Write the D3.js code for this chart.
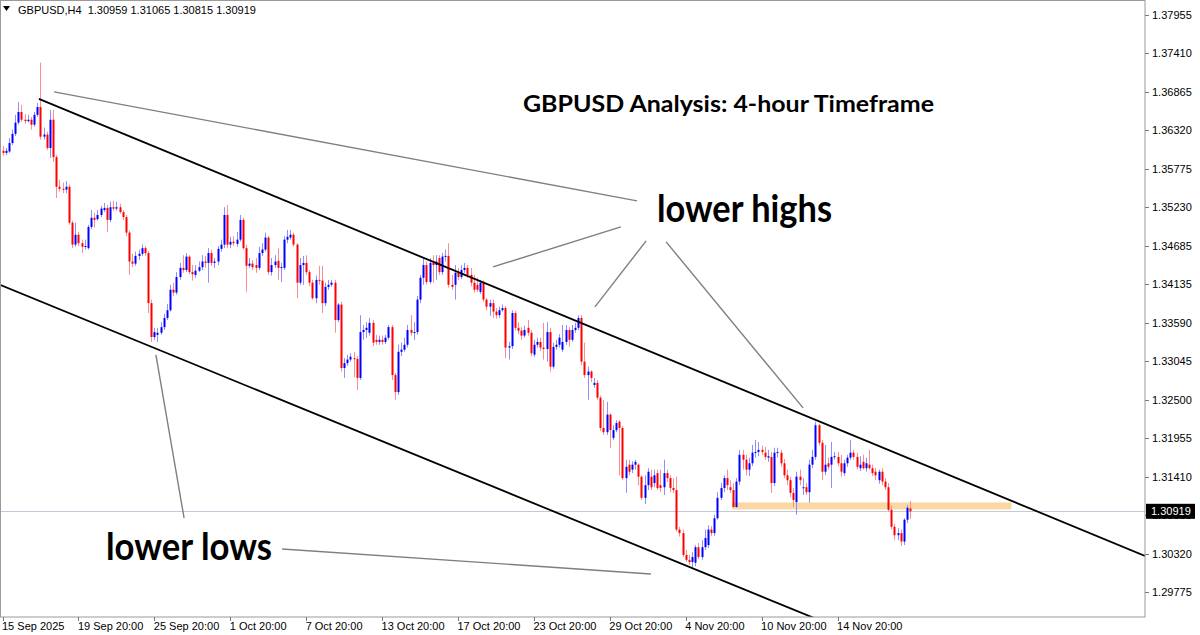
<!DOCTYPE html>
<html><head><meta charset="utf-8">
<script src="https://cdn.jsdelivr.net/npm/d3@7/dist/d3.min.js"></script>
<style>body{margin:0;background:#fff}svg{display:block}</style>
</head><body>
<script>
// ---- DATA (GBPUSD H4) ----
const opens = [
1.3603,1.3600,1.3602,1.3614,1.3627,1.3643,1.3658,1.3647,1.3645,1.3647,1.3640,1.3654,
1.3665,1.3623,1.3626,1.3607,1.3647,1.3594,1.3552,1.3549,1.3548,1.3552,1.3501,1.3470,
1.3484,1.3472,1.3467,1.3465,1.3495,1.3508,1.3506,1.3512,1.3519,1.3522,1.3505,1.3523,
1.3521,1.3523,1.3516,1.3509,1.3487,1.3446,1.3443,1.3454,1.3457,1.3465,1.3458,1.3387,
1.3339,1.3342,1.3345,1.3353,1.3366,1.3377,1.3406,1.3402,1.3424,1.3437,1.3434,1.3453,
1.3431,1.3427,1.3433,1.3438,1.3446,1.3444,1.3458,1.3444,1.3446,1.3464,1.3470,1.3512,
1.3470,1.3474,1.3471,1.3477,1.3505,1.3465,1.3440,1.3443,1.3441,1.3437,1.3458,1.3463,
1.3480,1.3431,1.3441,1.3447,1.3437,1.3437,1.3477,1.3480,1.3484,1.3470,1.3416,1.3441,
1.3444,1.3431,1.3416,1.3394,1.3420,1.3419,1.3387,1.3410,1.3413,1.3416,1.3363,1.3385,
1.3295,1.3302,1.3307,1.3309,1.3308,1.3281,1.3346,1.3349,1.3345,1.3359,1.3335,1.3332,
1.3335,1.3332,1.3338,1.3353,1.3285,1.3261,1.3318,1.3321,1.3328,1.3349,1.3345,1.3346,
1.3392,1.3423,1.3441,1.3417,1.3444,1.3441,1.3451,1.3431,1.3453,1.3454,1.3413,1.3413,
1.3430,1.3424,1.3434,1.3437,1.3427,1.3416,1.3413,1.3403,1.3416,1.3392,1.3382,1.3387,
1.3375,1.3370,1.3377,1.3380,1.3324,1.3326,1.3373,1.3352,1.3348,1.3341,1.3352,1.3345,
1.3314,1.3328,1.3332,1.3324,1.3322,1.3346,1.3297,1.3325,1.3328,1.3321,1.3332,1.3349,
1.3335,1.3349,1.3352,1.3366,1.3304,1.3285,1.3290,1.3271,1.3274,1.3253,1.3210,1.3204,
1.3229,1.3196,1.3207,1.3219,1.3210,1.3139,1.3158,1.3151,1.3158,1.3158,1.3141,1.3111,
1.3129,1.3141,1.3132,1.3146,1.3129,1.3126,1.3146,1.3139,1.3125,1.3122,1.3066,1.3061,
1.3030,1.3023,1.3020,1.3019,1.3041,1.3027,1.3041,1.3044,1.3066,1.3061,1.3082,1.3111,
1.3125,1.3139,1.3126,1.3122,1.3098,1.3134,1.3172,1.3165,1.3151,1.3160,1.3175,1.3176,
1.3179,1.3175,1.3168,1.3169,1.3132,1.3175,1.3175,1.3160,1.3143,1.3136,1.3118,1.3105,
1.3141,1.3125,1.3126,1.3119,1.3158,1.3169,1.3214,1.3189,1.3148,1.3160,1.3158,1.3169,
1.3169,1.3160,1.3146,1.3160,1.3168,1.3175,1.3169,1.3153,1.3162,1.3153,1.3158,1.3153,
1.3148,1.3136,1.3148,1.3134,1.3126,1.3094,1.3070,1.3058,1.3061,1.3049,1.3080,1.30959];
const highs = [
1.3610,1.3607,1.3621,1.3633,1.3654,1.3672,1.3668,1.3655,1.3654,1.3651,1.3658,1.3671,
1.3728,1.3636,1.3630,1.3661,1.3661,1.3597,1.3562,1.3558,1.3560,1.3555,1.3504,1.3501,
1.3488,1.3477,1.3477,1.3498,1.3519,1.3515,1.3519,1.3525,1.3529,1.3526,1.3531,1.3532,
1.3531,1.3528,1.3519,1.3512,1.3490,1.3457,1.3460,1.3463,1.3470,1.3468,1.3461,1.3392,
1.3352,1.3352,1.3360,1.3372,1.3386,1.3413,1.3416,1.3431,1.3444,1.3455,1.3458,1.3455,
1.3441,1.3441,1.3446,1.3455,1.3454,1.3465,1.3463,1.3451,1.3468,1.3477,1.3523,1.3526,
1.3481,1.3482,1.3488,1.3512,1.3508,1.3470,1.3451,1.3448,1.3451,1.3467,1.3472,1.3487,
1.3482,1.3451,1.3455,1.3465,1.3444,1.3482,1.3491,1.3491,1.3487,1.3472,1.3451,1.3454,
1.3455,1.3434,1.3420,1.3426,1.3440,1.3440,1.3416,1.3420,1.3420,1.3420,1.3387,1.3389,
1.3309,1.3314,1.3316,1.3318,1.3312,1.3370,1.3356,1.3360,1.3366,1.3363,1.3342,1.3341,
1.3341,1.3342,1.3356,1.3356,1.3288,1.3328,1.3331,1.3338,1.3356,1.3370,1.3360,1.3397,
1.3427,1.3451,1.3446,1.3451,1.3455,1.3455,1.3455,1.3458,1.3463,1.3472,1.3427,1.3441,
1.3437,1.3441,1.3444,1.3441,1.3437,1.3427,1.3423,1.3420,1.3419,1.3394,1.3392,1.3392,
1.3380,1.3382,1.3385,1.3383,1.3332,1.3377,1.3376,1.3360,1.3353,1.3355,1.3363,1.3349,
1.3335,1.3338,1.3338,1.3359,1.3360,1.3352,1.3331,1.3335,1.3343,1.3356,1.3356,1.3353,
1.3356,1.3359,1.3370,1.3370,1.3331,1.3297,1.3292,1.3281,1.3278,1.3256,1.3250,1.3247,
1.3231,1.3214,1.3221,1.3221,1.3213,1.3165,1.3165,1.3163,1.3165,1.3160,1.3143,1.3143,
1.3153,1.3151,1.3151,1.3151,1.3151,1.3165,1.3151,1.3143,1.3139,1.3141,1.3070,1.3066,
1.3037,1.3030,1.3034,1.3044,1.3047,1.3051,1.3066,1.3072,1.3071,1.3087,1.3119,1.3132,
1.3143,1.3151,1.3136,1.3132,1.3139,1.3179,1.3179,1.3172,1.3168,1.3186,1.3193,1.3190,
1.3185,1.3183,1.3179,1.3176,1.3182,1.3182,1.3179,1.3166,1.3151,1.3141,1.3125,1.3148,
1.3151,1.3139,1.3132,1.3165,1.3179,1.3219,1.3216,1.3193,1.3186,1.3168,1.3190,1.3176,
1.3176,1.3172,1.3165,1.3172,1.3193,1.3179,1.3175,1.3170,1.3172,1.3168,1.3179,1.3158,
1.3153,1.3151,1.3153,1.3139,1.3132,1.3100,1.3074,1.3068,1.3066,1.3082,1.3101,1.31065];
const lows = [
1.3596,1.3597,1.3600,1.3611,1.3624,1.3640,1.3644,1.3641,1.3643,1.3633,1.3637,1.3651,
1.3619,1.3619,1.3604,1.3593,1.3587,1.3536,1.3545,1.3543,1.3543,1.3498,1.3465,1.3467,
1.3468,1.3458,1.3463,1.3463,1.3492,1.3494,1.3504,1.3509,1.3516,1.3488,1.3502,1.3518,
1.3518,1.3514,1.3505,1.3482,1.3427,1.3438,1.3440,1.3448,1.3454,1.3454,1.3373,1.3332,
1.3335,1.3332,1.3342,1.3349,1.3363,1.3375,1.3397,1.3399,1.3420,1.3430,1.3431,1.3428,
1.3419,1.3423,1.3431,1.3434,1.3437,1.3416,1.3440,1.3437,1.3441,1.3460,1.3465,1.3465,
1.3465,1.3468,1.3467,1.3474,1.3463,1.3403,1.3437,1.3434,1.3430,1.3434,1.3454,1.3460,
1.3427,1.3426,1.3437,1.3420,1.3417,1.3434,1.3472,1.3477,1.3467,1.3394,1.3413,1.3413,
1.3427,1.3411,1.3392,1.3387,1.3413,1.3373,1.3383,1.3406,1.3410,1.3345,1.3360,1.3290,
1.3281,1.3298,1.3304,1.3282,1.3264,1.3278,1.3335,1.3338,1.3341,1.3326,1.3328,1.3328,
1.3328,1.3329,1.3335,1.3278,1.3250,1.3257,1.3312,1.3318,1.3324,1.3341,1.3335,1.3342,
1.3387,1.3413,1.3413,1.3414,1.3416,1.3420,1.3427,1.3427,1.3446,1.3409,1.3406,1.3392,
1.3420,1.3421,1.3430,1.3423,1.3411,1.3402,1.3403,1.3400,1.3389,1.3377,1.3369,1.3366,
1.3365,1.3366,1.3375,1.3309,1.3307,1.3322,1.3348,1.3343,1.3335,1.3338,1.3341,1.3312,
1.3311,1.3324,1.3319,1.3307,1.3304,1.3290,1.3294,1.3321,1.3324,1.3318,1.3328,1.3325,
1.3332,1.3345,1.3349,1.3299,1.3281,1.3250,1.3275,1.3267,1.3250,1.3206,1.3200,1.3200,
1.3182,1.3193,1.3204,1.3143,1.3136,1.3118,1.3143,1.3146,1.3151,1.3129,1.3108,1.3102,
1.3122,1.3122,1.3126,1.3122,1.3119,1.3115,1.3134,1.3119,1.3118,1.3063,1.3056,1.3027,
1.3020,1.3016,1.3013,1.3014,1.3024,1.3023,1.3037,1.3040,1.3057,1.3057,1.3080,1.3108,
1.3119,1.3122,1.3118,1.3097,1.3097,1.3129,1.3151,1.3143,1.3142,1.3156,1.3168,1.3170,
1.3172,1.3165,1.3162,1.3118,1.3128,1.3168,1.3155,1.3139,1.3129,1.3112,1.3098,1.3087,
1.3129,1.3115,1.3115,1.3104,1.3153,1.3165,1.3185,1.3136,1.3143,1.3151,1.3125,1.3165,
1.3156,1.3141,1.3142,1.3155,1.3165,1.3165,1.3151,1.3149,1.3151,1.3148,1.3151,1.3142,
1.3136,1.3131,1.3129,1.3122,1.3091,1.3066,1.3051,1.3051,1.3043,1.3044,1.3075,1.30815];
const closes = [
1.3600,1.3603,1.3614,1.3627,1.3643,1.3658,1.3647,1.3645,1.3647,1.3640,1.3654,1.3665,
1.3623,1.3626,1.3607,1.3647,1.3594,1.3552,1.3549,1.3548,1.3552,1.3501,1.3470,1.3484,
1.3472,1.3467,1.3468,1.3495,1.3508,1.3505,1.3512,1.3521,1.3522,1.3505,1.3523,1.3521,
1.3523,1.3516,1.3509,1.3487,1.3446,1.3443,1.3454,1.3457,1.3465,1.3458,1.3387,1.3339,
1.3346,1.3345,1.3353,1.3366,1.3377,1.3406,1.3402,1.3424,1.3437,1.3434,1.3453,1.3431,
1.3428,1.3433,1.3438,1.3446,1.3444,1.3458,1.3444,1.3446,1.3464,1.3470,1.3512,1.3470,
1.3474,1.3472,1.3477,1.3505,1.3465,1.3440,1.3443,1.3438,1.3437,1.3458,1.3463,1.3480,
1.3431,1.3441,1.3446,1.3437,1.3438,1.3477,1.3481,1.3484,1.3470,1.3416,1.3441,1.3444,
1.3431,1.3416,1.3394,1.3420,1.3419,1.3387,1.3410,1.3413,1.3416,1.3363,1.3385,1.3295,
1.3302,1.3307,1.3311,1.3308,1.3281,1.3346,1.3349,1.3352,1.3359,1.3331,1.3332,1.3335,
1.3332,1.3338,1.3353,1.3285,1.3261,1.3318,1.3321,1.3328,1.3349,1.3345,1.3346,1.3392,
1.3423,1.3441,1.3417,1.3444,1.3441,1.3446,1.3431,1.3453,1.3454,1.3413,1.3410,1.3430,
1.3424,1.3434,1.3437,1.3427,1.3416,1.3406,1.3406,1.3416,1.3392,1.3382,1.3387,1.3375,
1.3370,1.3377,1.3380,1.3324,1.3326,1.3373,1.3352,1.3348,1.3341,1.3349,1.3345,1.3316,
1.3328,1.3332,1.3324,1.3322,1.3346,1.3297,1.3325,1.3328,1.3338,1.3332,1.3349,1.3335,
1.3349,1.3352,1.3366,1.3304,1.3285,1.3290,1.3281,1.3274,1.3253,1.3210,1.3204,1.3229,
1.3207,1.3207,1.3217,1.3210,1.3139,1.3155,1.3148,1.3158,1.3162,1.3141,1.3111,1.3129,
1.3148,1.3126,1.3143,1.3125,1.3125,1.3146,1.3139,1.3125,1.3122,1.3066,1.3061,1.3030,
1.3023,1.3020,1.3027,1.3041,1.3027,1.3041,1.3054,1.3066,1.3061,1.3082,1.3111,1.3125,
1.3139,1.3129,1.3122,1.3098,1.3134,1.3172,1.3165,1.3151,1.3160,1.3175,1.3176,1.3179,
1.3176,1.3169,1.3170,1.3132,1.3175,1.3176,1.3160,1.3143,1.3136,1.3118,1.3108,1.3141,
1.3136,1.3126,1.3119,1.3158,1.3169,1.3214,1.3189,1.3148,1.3158,1.3155,1.3169,1.3170,
1.3160,1.3148,1.3160,1.3168,1.3175,1.3169,1.3155,1.3158,1.3153,1.3160,1.3153,1.3146,
1.3143,1.3148,1.3134,1.3126,1.3094,1.3070,1.3058,1.3061,1.3049,1.3080,1.3097,1.30919];

const priceTicks = [1.37955,1.37410,1.36865,1.36320,1.35775,1.35230,1.34685,1.34135,
                    1.33590,1.33045,1.32500,1.31955,1.31410,1.30865,1.30320,1.29775];
const priceTickLabels = ["1.37955","1.37410","1.36865","1.36320","1.35775","1.35230","1.34685","1.34135",
                    "1.33590","1.33045","1.32500","1.31955","1.31410","1.30865","1.30320","1.29775"];
const timeTickBars = [0,24,48,72,96,120,144,168,192,216,240,264];
const timeTickLabels = ["15 Sep 2025","19 Sep 20:00","25 Sep 20:00","1 Oct 20:00","7 Oct 20:00",
  "13 Oct 20:00","17 Oct 20:00","23 Oct 20:00","29 Oct 20:00","4 Nov 20:00","10 Nov 20:00","14 Nov 20:00"];

// drawn objects anchored at (bar index, price)
const channelUpper = [[11.5,1.36766],[361.2,1.30286]];
const channelLower = [[-0.8,1.34129],[300,1.28610]];
const pointerLines = [
  [[16.3,1.36865],[200.6,1.35320]],
  [[155.1,1.34384],[195.5,1.34951]],
  [[187.3,1.33817],[203.5,1.34753]],
  [[209.8,1.34739],[253.1,1.32385]],
  [[48.5,1.33136],[57.4,1.30825]],
  [[88.4,1.30385],[205.0,1.30031]]
];
const zone = {from:230.6, to:319, top:1.31045, bottom:1.30945};
const symbolInfo = "GBPUSD,H4  1.30959 1.31065 1.30815 1.30919";

// ---- CHART ----
const W=1200, H=635, plotR=1145, plotB=617;
const N = closes.length;
const x = d3.scaleLinear().domain([0, N-1]).range([2.5, 2.5 + 3.163*(N-1)]);
const y = d3.scaleLinear().domain([1.29775, 1.37955]).range([592, 15]);

const svg = d3.select("body").append("svg").attr("width",W).attr("height",H)
  .style("font-family","'Liberation Sans', Arial, sans-serif");
svg.append("rect").attr("width",W).attr("height",H).attr("fill","#fff");
svg.append("defs").append("clipPath").attr("id","clip")
  .append("rect").attr("x",0).attr("y",0).attr("width",plotR).attr("height",plotB);
const g = svg.append("g").attr("clip-path","url(#clip)");

// zone
g.append("rect")
  .attr("x", x(zone.from)).attr("width", x(zone.to)-x(zone.from))
  .attr("y", y(zone.top)).attr("height", y(zone.bottom)-y(zone.top))
  .attr("fill","#fbd8a3");

// current price line
const last = closes[N-1];
g.append("line").attr("x1",0).attr("x2",plotR)
  .attr("y1",Math.round(y(last))+0.5).attr("y2",Math.round(y(last))+0.5)
  .attr("stroke","#c2c9d8").attr("stroke-width",1);

// candles
const idx = d3.range(N);
const up = i => closes[i] >= opens[i];
g.append("g").selectAll("line").data(idx).join("line")
  .attr("x1", i => Math.round(x(i))+0.5).attr("x2", i => Math.round(x(i))+0.5)
  .attr("y1", i => y(highs[i])).attr("y2", i => y(lows[i]))
  .attr("stroke", i => up(i) ? "#8f8ffb" : "#fb8f8f").attr("stroke-width",1);
g.append("g").selectAll("rect").data(idx).join("rect")
  .attr("x", i => Math.round(x(i))-0.5).attr("width", 2)
  .attr("y", i => y(Math.max(opens[i],closes[i])))
  .attr("height", i => Math.max(1, Math.abs(y(opens[i])-y(closes[i]))))
  .attr("fill", i => up(i) ? "#0000ff" : "#ff0000");

// channel lines
const lineGen = d3.line().x(d => x(d[0])).y(d => y(d[1]));
[channelUpper, channelLower].forEach(l => {
  g.append("path").attr("d", lineGen(l)).attr("fill","none")
    .attr("stroke","#000").attr("stroke-width",1.8);
});
pointerLines.forEach(l => {
  g.append("path").attr("d", lineGen(l)).attr("fill","none")
    .attr("stroke","#7f7f7f").attr("stroke-width",1.4);
});

// texts
g.append("text").attr("x",523).attr("y",112).attr("textLength",411).attr("lengthAdjust","spacingAndGlyphs")
  .style("font-family","Lato, 'Open Sans', sans-serif").style("font-weight","bold").style("font-size","23px")
  .attr("fill","#000").text("GBPUSD Analysis: 4-hour Timeframe");
g.append("text").attr("x",657).attr("y",222).attr("textLength",175).attr("lengthAdjust","spacingAndGlyphs")
  .style("font-family","Lato, 'Open Sans', sans-serif").style("font-weight","bold").style("font-size","38px")
  .attr("fill","#000").text("lower highs");
g.append("text").attr("x",106).attr("y",560).attr("textLength",166).attr("lengthAdjust","spacingAndGlyphs")
  .style("font-family","Lato, 'Open Sans', sans-serif").style("font-weight","bold").style("font-size","38px")
  .attr("fill","#000").text("lower lows");

// frame
svg.append("rect").attr("x",0.5).attr("y",0.5).attr("width",plotR-0.5).attr("height",plotB-0.5)
  .attr("fill","none").attr("stroke","#9a9a9a").attr("stroke-width",1);

// header
svg.append("path").attr("d","M3,6 L10,6 L6.5,11 Z").attr("fill","#000");
svg.append("text").attr("x",18).attr("y",14).attr("xml:space","preserve").style("white-space","pre")
  .style("font-size","11px").attr("fill","#000").text(symbolInfo);

// price axis
const pa = svg.append("g");
priceTicks.forEach((v,k) => {
  const yy = Math.round(y(v))+0.5;
  pa.append("line").attr("x1",plotR).attr("x2",plotR+4).attr("y1",yy).attr("y2",yy).attr("stroke","#7a7a7a");
  pa.append("text").attr("x",1152).attr("y",y(v)+4).style("font-size","11px").attr("fill","#000").text(priceTickLabels[k]);
});
pa.append("rect").attr("x",plotR+1).attr("y",y(last)-7.5).attr("width",49).attr("height",15).attr("fill","#000");
pa.append("text").attr("x",1151).attr("y",y(last)+4).style("font-size","11px").attr("fill","#fff").text(last.toFixed(5));

// time axis
const ta = svg.append("g");
timeTickBars.forEach((b,k) => {
  const xx = Math.round(x(b))+0.5;
  ta.append("line").attr("x1",xx).attr("x2",xx).attr("y1",plotB).attr("y2",plotB+4).attr("stroke","#7a7a7a");
  ta.append("text").attr("x",x(b)-0.5).attr("y",630).style("font-size","11px").attr("fill","#000").text(timeTickLabels[k]);
});
</script>
</body></html>
